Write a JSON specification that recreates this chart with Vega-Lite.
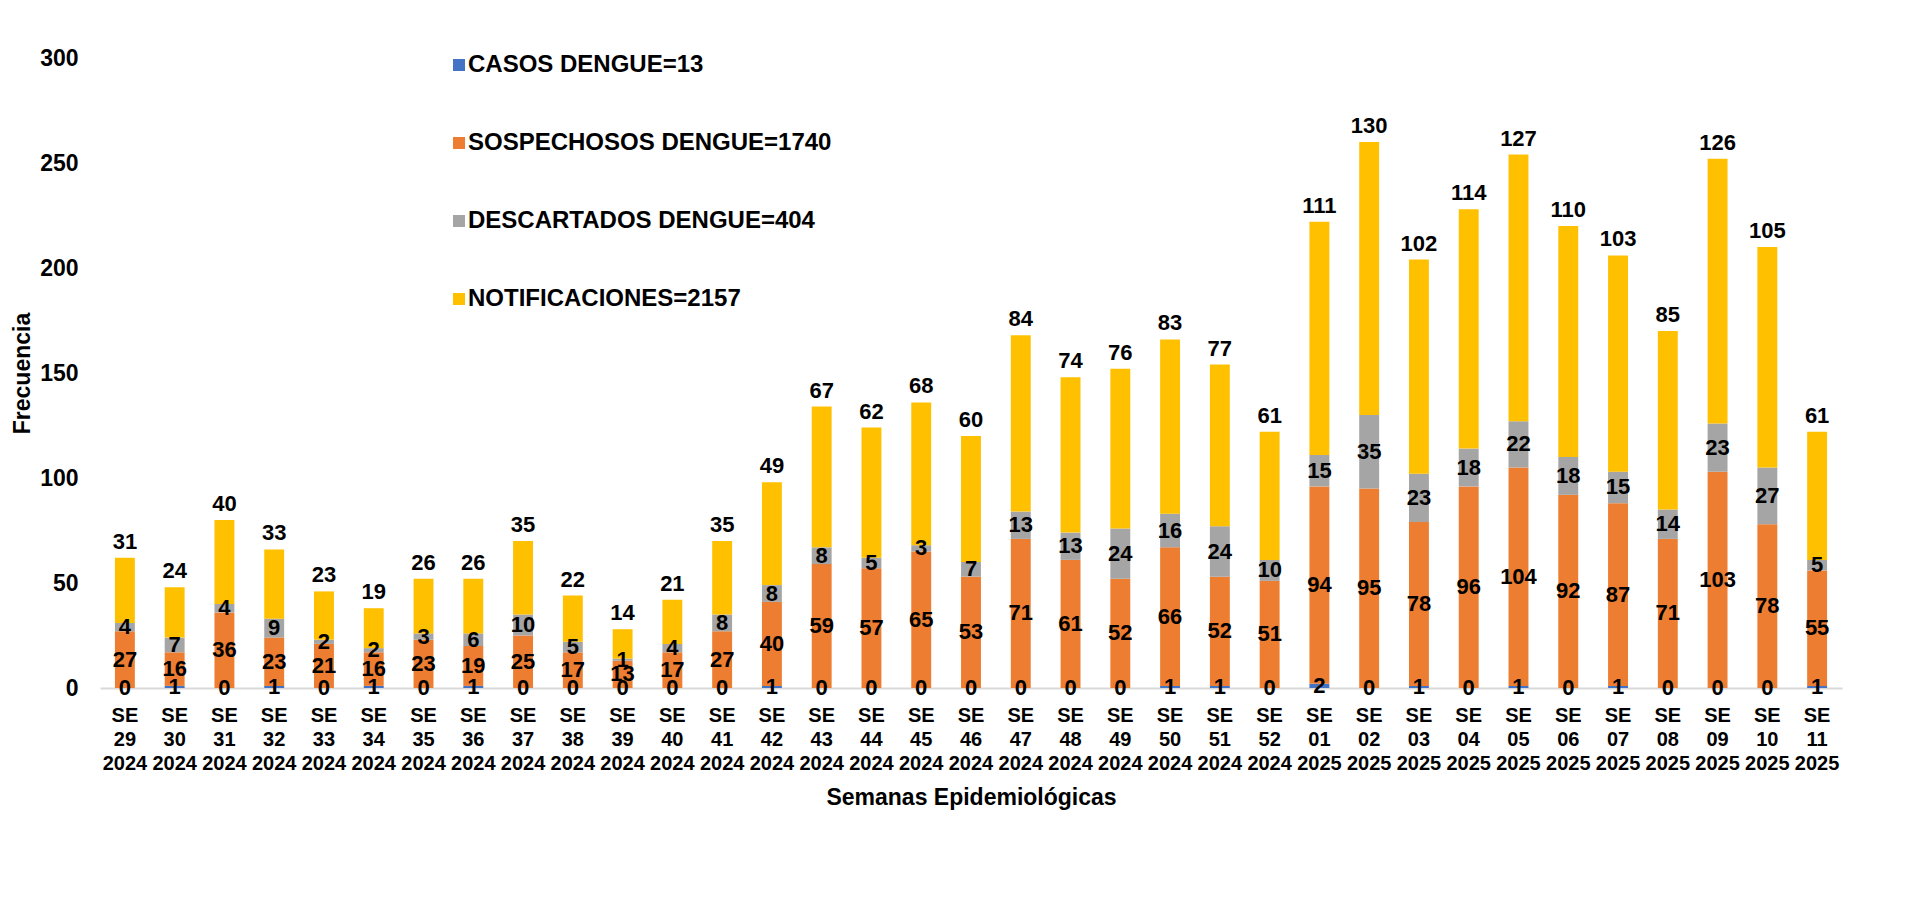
{
  "$schema": "https://vega.github.io/schema/vega-lite/v6.json",
  "width": 1742,
  "height": 630,
  "autosize": {"type": "none"},
  "padding": {"left": 100, "top": 58, "right": 87, "bottom": 210},
  "background": "white",
  "config": {
    "font": "Liberation Sans",
    "view": {"stroke": null},
    "axis": {"labelFont": "Liberation Sans", "titleFont": "Liberation Sans", "labelColor": "#000000", "titleColor": "#000000", "labelFontWeight": "bold", "titleFontWeight": "bold"}
  },
  "data": {
    "values": [
      {"semana": "SE 29 2024", "serie": "CASOS DENGUE=13", "valor": 0},
      {"semana": "SE 29 2024", "serie": "SOSPECHOSOS DENGUE=1740", "valor": 27},
      {"semana": "SE 29 2024", "serie": "DESCARTADOS DENGUE=404", "valor": 4},
      {"semana": "SE 29 2024", "serie": "NOTIFICACIONES=2157", "valor": 31},
      {"semana": "SE 30 2024", "serie": "CASOS DENGUE=13", "valor": 1},
      {"semana": "SE 30 2024", "serie": "SOSPECHOSOS DENGUE=1740", "valor": 16},
      {"semana": "SE 30 2024", "serie": "DESCARTADOS DENGUE=404", "valor": 7},
      {"semana": "SE 30 2024", "serie": "NOTIFICACIONES=2157", "valor": 24},
      {"semana": "SE 31 2024", "serie": "CASOS DENGUE=13", "valor": 0},
      {"semana": "SE 31 2024", "serie": "SOSPECHOSOS DENGUE=1740", "valor": 36},
      {"semana": "SE 31 2024", "serie": "DESCARTADOS DENGUE=404", "valor": 4},
      {"semana": "SE 31 2024", "serie": "NOTIFICACIONES=2157", "valor": 40},
      {"semana": "SE 32 2024", "serie": "CASOS DENGUE=13", "valor": 1},
      {"semana": "SE 32 2024", "serie": "SOSPECHOSOS DENGUE=1740", "valor": 23},
      {"semana": "SE 32 2024", "serie": "DESCARTADOS DENGUE=404", "valor": 9},
      {"semana": "SE 32 2024", "serie": "NOTIFICACIONES=2157", "valor": 33},
      {"semana": "SE 33 2024", "serie": "CASOS DENGUE=13", "valor": 0},
      {"semana": "SE 33 2024", "serie": "SOSPECHOSOS DENGUE=1740", "valor": 21},
      {"semana": "SE 33 2024", "serie": "DESCARTADOS DENGUE=404", "valor": 2},
      {"semana": "SE 33 2024", "serie": "NOTIFICACIONES=2157", "valor": 23},
      {"semana": "SE 34 2024", "serie": "CASOS DENGUE=13", "valor": 1},
      {"semana": "SE 34 2024", "serie": "SOSPECHOSOS DENGUE=1740", "valor": 16},
      {"semana": "SE 34 2024", "serie": "DESCARTADOS DENGUE=404", "valor": 2},
      {"semana": "SE 34 2024", "serie": "NOTIFICACIONES=2157", "valor": 19},
      {"semana": "SE 35 2024", "serie": "CASOS DENGUE=13", "valor": 0},
      {"semana": "SE 35 2024", "serie": "SOSPECHOSOS DENGUE=1740", "valor": 23},
      {"semana": "SE 35 2024", "serie": "DESCARTADOS DENGUE=404", "valor": 3},
      {"semana": "SE 35 2024", "serie": "NOTIFICACIONES=2157", "valor": 26},
      {"semana": "SE 36 2024", "serie": "CASOS DENGUE=13", "valor": 1},
      {"semana": "SE 36 2024", "serie": "SOSPECHOSOS DENGUE=1740", "valor": 19},
      {"semana": "SE 36 2024", "serie": "DESCARTADOS DENGUE=404", "valor": 6},
      {"semana": "SE 36 2024", "serie": "NOTIFICACIONES=2157", "valor": 26},
      {"semana": "SE 37 2024", "serie": "CASOS DENGUE=13", "valor": 0},
      {"semana": "SE 37 2024", "serie": "SOSPECHOSOS DENGUE=1740", "valor": 25},
      {"semana": "SE 37 2024", "serie": "DESCARTADOS DENGUE=404", "valor": 10},
      {"semana": "SE 37 2024", "serie": "NOTIFICACIONES=2157", "valor": 35},
      {"semana": "SE 38 2024", "serie": "CASOS DENGUE=13", "valor": 0},
      {"semana": "SE 38 2024", "serie": "SOSPECHOSOS DENGUE=1740", "valor": 17},
      {"semana": "SE 38 2024", "serie": "DESCARTADOS DENGUE=404", "valor": 5},
      {"semana": "SE 38 2024", "serie": "NOTIFICACIONES=2157", "valor": 22},
      {"semana": "SE 39 2024", "serie": "CASOS DENGUE=13", "valor": 0},
      {"semana": "SE 39 2024", "serie": "SOSPECHOSOS DENGUE=1740", "valor": 13},
      {"semana": "SE 39 2024", "serie": "DESCARTADOS DENGUE=404", "valor": 1},
      {"semana": "SE 39 2024", "serie": "NOTIFICACIONES=2157", "valor": 14},
      {"semana": "SE 40 2024", "serie": "CASOS DENGUE=13", "valor": 0},
      {"semana": "SE 40 2024", "serie": "SOSPECHOSOS DENGUE=1740", "valor": 17},
      {"semana": "SE 40 2024", "serie": "DESCARTADOS DENGUE=404", "valor": 4},
      {"semana": "SE 40 2024", "serie": "NOTIFICACIONES=2157", "valor": 21},
      {"semana": "SE 41 2024", "serie": "CASOS DENGUE=13", "valor": 0},
      {"semana": "SE 41 2024", "serie": "SOSPECHOSOS DENGUE=1740", "valor": 27},
      {"semana": "SE 41 2024", "serie": "DESCARTADOS DENGUE=404", "valor": 8},
      {"semana": "SE 41 2024", "serie": "NOTIFICACIONES=2157", "valor": 35},
      {"semana": "SE 42 2024", "serie": "CASOS DENGUE=13", "valor": 1},
      {"semana": "SE 42 2024", "serie": "SOSPECHOSOS DENGUE=1740", "valor": 40},
      {"semana": "SE 42 2024", "serie": "DESCARTADOS DENGUE=404", "valor": 8},
      {"semana": "SE 42 2024", "serie": "NOTIFICACIONES=2157", "valor": 49},
      {"semana": "SE 43 2024", "serie": "CASOS DENGUE=13", "valor": 0},
      {"semana": "SE 43 2024", "serie": "SOSPECHOSOS DENGUE=1740", "valor": 59},
      {"semana": "SE 43 2024", "serie": "DESCARTADOS DENGUE=404", "valor": 8},
      {"semana": "SE 43 2024", "serie": "NOTIFICACIONES=2157", "valor": 67},
      {"semana": "SE 44 2024", "serie": "CASOS DENGUE=13", "valor": 0},
      {"semana": "SE 44 2024", "serie": "SOSPECHOSOS DENGUE=1740", "valor": 57},
      {"semana": "SE 44 2024", "serie": "DESCARTADOS DENGUE=404", "valor": 5},
      {"semana": "SE 44 2024", "serie": "NOTIFICACIONES=2157", "valor": 62},
      {"semana": "SE 45 2024", "serie": "CASOS DENGUE=13", "valor": 0},
      {"semana": "SE 45 2024", "serie": "SOSPECHOSOS DENGUE=1740", "valor": 65},
      {"semana": "SE 45 2024", "serie": "DESCARTADOS DENGUE=404", "valor": 3},
      {"semana": "SE 45 2024", "serie": "NOTIFICACIONES=2157", "valor": 68},
      {"semana": "SE 46 2024", "serie": "CASOS DENGUE=13", "valor": 0},
      {"semana": "SE 46 2024", "serie": "SOSPECHOSOS DENGUE=1740", "valor": 53},
      {"semana": "SE 46 2024", "serie": "DESCARTADOS DENGUE=404", "valor": 7},
      {"semana": "SE 46 2024", "serie": "NOTIFICACIONES=2157", "valor": 60},
      {"semana": "SE 47 2024", "serie": "CASOS DENGUE=13", "valor": 0},
      {"semana": "SE 47 2024", "serie": "SOSPECHOSOS DENGUE=1740", "valor": 71},
      {"semana": "SE 47 2024", "serie": "DESCARTADOS DENGUE=404", "valor": 13},
      {"semana": "SE 47 2024", "serie": "NOTIFICACIONES=2157", "valor": 84},
      {"semana": "SE 48 2024", "serie": "CASOS DENGUE=13", "valor": 0},
      {"semana": "SE 48 2024", "serie": "SOSPECHOSOS DENGUE=1740", "valor": 61},
      {"semana": "SE 48 2024", "serie": "DESCARTADOS DENGUE=404", "valor": 13},
      {"semana": "SE 48 2024", "serie": "NOTIFICACIONES=2157", "valor": 74},
      {"semana": "SE 49 2024", "serie": "CASOS DENGUE=13", "valor": 0},
      {"semana": "SE 49 2024", "serie": "SOSPECHOSOS DENGUE=1740", "valor": 52},
      {"semana": "SE 49 2024", "serie": "DESCARTADOS DENGUE=404", "valor": 24},
      {"semana": "SE 49 2024", "serie": "NOTIFICACIONES=2157", "valor": 76},
      {"semana": "SE 50 2024", "serie": "CASOS DENGUE=13", "valor": 1},
      {"semana": "SE 50 2024", "serie": "SOSPECHOSOS DENGUE=1740", "valor": 66},
      {"semana": "SE 50 2024", "serie": "DESCARTADOS DENGUE=404", "valor": 16},
      {"semana": "SE 50 2024", "serie": "NOTIFICACIONES=2157", "valor": 83},
      {"semana": "SE 51 2024", "serie": "CASOS DENGUE=13", "valor": 1},
      {"semana": "SE 51 2024", "serie": "SOSPECHOSOS DENGUE=1740", "valor": 52},
      {"semana": "SE 51 2024", "serie": "DESCARTADOS DENGUE=404", "valor": 24},
      {"semana": "SE 51 2024", "serie": "NOTIFICACIONES=2157", "valor": 77},
      {"semana": "SE 52 2024", "serie": "CASOS DENGUE=13", "valor": 0},
      {"semana": "SE 52 2024", "serie": "SOSPECHOSOS DENGUE=1740", "valor": 51},
      {"semana": "SE 52 2024", "serie": "DESCARTADOS DENGUE=404", "valor": 10},
      {"semana": "SE 52 2024", "serie": "NOTIFICACIONES=2157", "valor": 61},
      {"semana": "SE 01 2025", "serie": "CASOS DENGUE=13", "valor": 2},
      {"semana": "SE 01 2025", "serie": "SOSPECHOSOS DENGUE=1740", "valor": 94},
      {"semana": "SE 01 2025", "serie": "DESCARTADOS DENGUE=404", "valor": 15},
      {"semana": "SE 01 2025", "serie": "NOTIFICACIONES=2157", "valor": 111},
      {"semana": "SE 02 2025", "serie": "CASOS DENGUE=13", "valor": 0},
      {"semana": "SE 02 2025", "serie": "SOSPECHOSOS DENGUE=1740", "valor": 95},
      {"semana": "SE 02 2025", "serie": "DESCARTADOS DENGUE=404", "valor": 35},
      {"semana": "SE 02 2025", "serie": "NOTIFICACIONES=2157", "valor": 130},
      {"semana": "SE 03 2025", "serie": "CASOS DENGUE=13", "valor": 1},
      {"semana": "SE 03 2025", "serie": "SOSPECHOSOS DENGUE=1740", "valor": 78},
      {"semana": "SE 03 2025", "serie": "DESCARTADOS DENGUE=404", "valor": 23},
      {"semana": "SE 03 2025", "serie": "NOTIFICACIONES=2157", "valor": 102},
      {"semana": "SE 04 2025", "serie": "CASOS DENGUE=13", "valor": 0},
      {"semana": "SE 04 2025", "serie": "SOSPECHOSOS DENGUE=1740", "valor": 96},
      {"semana": "SE 04 2025", "serie": "DESCARTADOS DENGUE=404", "valor": 18},
      {"semana": "SE 04 2025", "serie": "NOTIFICACIONES=2157", "valor": 114},
      {"semana": "SE 05 2025", "serie": "CASOS DENGUE=13", "valor": 1},
      {"semana": "SE 05 2025", "serie": "SOSPECHOSOS DENGUE=1740", "valor": 104},
      {"semana": "SE 05 2025", "serie": "DESCARTADOS DENGUE=404", "valor": 22},
      {"semana": "SE 05 2025", "serie": "NOTIFICACIONES=2157", "valor": 127},
      {"semana": "SE 06 2025", "serie": "CASOS DENGUE=13", "valor": 0},
      {"semana": "SE 06 2025", "serie": "SOSPECHOSOS DENGUE=1740", "valor": 92},
      {"semana": "SE 06 2025", "serie": "DESCARTADOS DENGUE=404", "valor": 18},
      {"semana": "SE 06 2025", "serie": "NOTIFICACIONES=2157", "valor": 110},
      {"semana": "SE 07 2025", "serie": "CASOS DENGUE=13", "valor": 1},
      {"semana": "SE 07 2025", "serie": "SOSPECHOSOS DENGUE=1740", "valor": 87},
      {"semana": "SE 07 2025", "serie": "DESCARTADOS DENGUE=404", "valor": 15},
      {"semana": "SE 07 2025", "serie": "NOTIFICACIONES=2157", "valor": 103},
      {"semana": "SE 08 2025", "serie": "CASOS DENGUE=13", "valor": 0},
      {"semana": "SE 08 2025", "serie": "SOSPECHOSOS DENGUE=1740", "valor": 71},
      {"semana": "SE 08 2025", "serie": "DESCARTADOS DENGUE=404", "valor": 14},
      {"semana": "SE 08 2025", "serie": "NOTIFICACIONES=2157", "valor": 85},
      {"semana": "SE 09 2025", "serie": "CASOS DENGUE=13", "valor": 0},
      {"semana": "SE 09 2025", "serie": "SOSPECHOSOS DENGUE=1740", "valor": 103},
      {"semana": "SE 09 2025", "serie": "DESCARTADOS DENGUE=404", "valor": 23},
      {"semana": "SE 09 2025", "serie": "NOTIFICACIONES=2157", "valor": 126},
      {"semana": "SE 10 2025", "serie": "CASOS DENGUE=13", "valor": 0},
      {"semana": "SE 10 2025", "serie": "SOSPECHOSOS DENGUE=1740", "valor": 78},
      {"semana": "SE 10 2025", "serie": "DESCARTADOS DENGUE=404", "valor": 27},
      {"semana": "SE 10 2025", "serie": "NOTIFICACIONES=2157", "valor": 105},
      {"semana": "SE 11 2025", "serie": "CASOS DENGUE=13", "valor": 1},
      {"semana": "SE 11 2025", "serie": "SOSPECHOSOS DENGUE=1740", "valor": 55},
      {"semana": "SE 11 2025", "serie": "DESCARTADOS DENGUE=404", "valor": 5},
      {"semana": "SE 11 2025", "serie": "NOTIFICACIONES=2157", "valor": 61}
    ]
  },
  "transform": [
    {"calculate": "indexof(['CASOS DENGUE=13','SOSPECHOSOS DENGUE=1740','DESCARTADOS DENGUE=404','NOTIFICACIONES=2157'], datum.serie)", "as": "orden"}
  ],
  "encoding": {
    "x": {
      "field": "semana",
      "type": "nominal",
      "sort": null,
      "scale": {"paddingInner": 0.6, "paddingOuter": 0.3},
      "axis": {
        "title": "Semanas Epidemiológicas",
        "titleFontSize": 23,
        "titlePadding": 13,
        "labelAngle": 0,
        "labelFontSize": 20,
        "labelLineHeight": 24,
        "labelBaseline": "top",
        "labelPadding": 17,
        "labelExpr": "split(datum.value, ' ')",
        "ticks": false,
        "domainColor": "#d9d9d9",
        "domainWidth": 2,
        "labelOverlap": false
      }
    }
  },
  "layer": [
    {
      "mark": {"type": "bar"},
      "encoding": {
        "y": {
          "field": "valor",
          "type": "quantitative",
          "stack": "zero",
          "scale": {"domain": [0, 300], "nice": false},
          "axis": {
            "title": "Frecuencia",
            "titleFontSize": 23,
            "titlePadding": 5,
            "values": [0, 50, 100, 150, 200, 250, 300],
            "labelFontSize": 23,
            "labelPadding": 22,
            "ticks": false,
            "domain": false,
            "grid": false
          }
        },
        "color": {
          "field": "serie",
          "type": "nominal",
          "scale": {
            "domain": ["CASOS DENGUE=13", "SOSPECHOSOS DENGUE=1740", "DESCARTADOS DENGUE=404", "NOTIFICACIONES=2157"],
            "range": ["#4472C4", "#ED7D31", "#A5A5A5", "#FFC000"]
          },
          "legend": {
            "title": null,
            "orient": "none",
            "legendX": 347,
            "legendY": -5,
            "direction": "vertical",
            "symbolType": "square",
            "symbolSize": 144,
            "symbolStrokeWidth": 0,
            "labelFontSize": 24,
            "labelFont": "Liberation Sans",
            "labelFontWeight": "bold",
            "labelColor": "#000000",
            "labelOffset": -3,
            "rowPadding": 54,
            "labelLimit": 600
          }
        },
        "order": {"field": "orden", "type": "quantitative"}
      }
    },
    {
      "mark": {"type": "text", "font": "Liberation Sans", "fontWeight": "bold", "fontSize": 22, "baseline": "middle", "color": "#000000"},
      "encoding": {
        "y": {"field": "valor", "type": "quantitative", "stack": "zero", "bandPosition": 0.5},
        "text": {"condition": {"test": "datum.serie !== 'NOTIFICACIONES=2157'", "field": "valor", "type": "quantitative"}, "value": ""},
        "order": {"field": "orden", "type": "quantitative"},
        "detail": {"field": "serie", "type": "nominal"}
      }
    },
    {
      "mark": {"type": "text", "font": "Liberation Sans", "fontWeight": "bold", "fontSize": 22, "baseline": "alphabetic", "dy": -9, "color": "#000000"},
      "encoding": {
        "y": {"field": "valor", "type": "quantitative", "stack": "zero"},
        "text": {"condition": {"test": "datum.serie === 'NOTIFICACIONES=2157'", "field": "valor", "type": "quantitative"}, "value": ""},
        "order": {"field": "orden", "type": "quantitative"},
        "detail": {"field": "serie", "type": "nominal"}
      }
    }
  ]
}
